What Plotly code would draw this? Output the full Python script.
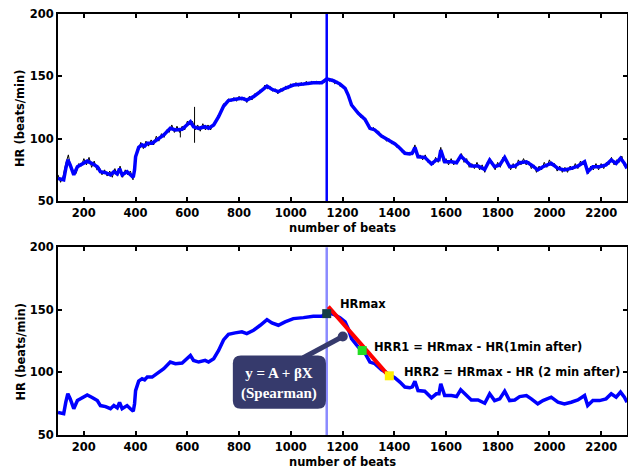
import plotly.graph_objects as go

# ---------------- data ----------------
# smoothed heart-rate (blue)
beats = [100, 112, 122, 130, 138, 147, 161, 175, 195, 213, 232, 252, 264, 284, 303, 316, 329, 338, 348, 367,
         380, 391, 396, 400, 412, 425, 435, 445, 464, 489, 509, 534, 554, 580, 599, 612, 624, 644, 669, 682,
         702, 721, 740, 759, 785, 811, 830, 856, 882, 908, 927, 952, 978, 1010, 1049, 1087, 1120, 1139, 1165, 1190,
         1210, 1222, 1235, 1261, 1287, 1306, 1325, 1351, 1377, 1403, 1422, 1441, 1460, 1470, 1480, 1492, 1518, 1544, 1563, 1573,
         1580, 1595, 1621, 1641, 1657, 1679, 1698, 1724, 1750, 1769, 1788, 1808, 1827, 1846, 1866, 1885, 1911, 1930, 1955, 1975,
         2007, 2033, 2058, 2084, 2110, 2136, 2148, 2168, 2194, 2219, 2239, 2258, 2275, 2290, 2300]
hr = [68, 67.5, 67, 76, 83, 79, 71, 77.5, 80, 82, 80, 77.5, 73.5, 72.7, 71, 73.5, 71.7, 76, 71, 73.5,
      71, 69, 75, 85.5, 93, 95, 94, 96.3, 96.3, 100.3, 103, 108.3, 107, 107.5, 111, 113.6, 109.6, 108.3, 109.6, 108.3,
      111, 117.6, 126, 130.5, 131.6, 132.4, 131, 133.7, 137.7, 142.2, 139.6, 137.7, 140.4, 143, 143.8, 144.9, 144.9, 148, 146.5, 143.8,
      140.4, 135, 127, 120.3, 115.5, 108.3, 107, 102.1, 99, 95.7, 92.3, 88.3, 87.7, 88.5, 93, 85.5, 85, 79.7, 82.9, 83,
      90.9, 81.5, 81.5, 80.7, 86.1, 81.5, 78, 78, 75.4, 82.9, 77.5, 78.9, 85, 77.5, 78, 80.7, 81.5, 78.9, 74.9, 77.5,
      80.2, 76.2, 74.9, 76.2, 78, 81.5, 73.5, 77.5, 77.5, 78.9, 82.9, 80.2, 84.3, 80.2, 76.2]

# raw (noisy) heart-rate, black, one value every 10 beats from 100 to 2300
raw_start, raw_step = 100, 10
raw_hr = [71, 65, 70, 80, 87, 76, 73, 72, 80, 78, 84, 79, 85, 77, 82, 75, 77, 71, 75, 70,
          74, 69, 76, 70, 78, 69, 75, 71, 74, 67, 88, 90, 97, 92, 98, 94, 99, 95, 102, 98,
          104, 101, 107, 105, 111, 105, 110, 105, 110, 107, 114, 111, 114, 107, 111, 106, 112, 107, 111, 107,
          112, 113, 119, 121, 128, 127, 132, 130, 133, 130, 134, 131, 133, 129, 134, 131, 136, 135, 139, 138,
          143, 140, 142, 138, 140, 136, 140, 138, 142, 140, 144, 142, 145, 142, 145, 143, 146, 143, 146, 144,
          146, 144, 146, 145, 149, 146, 148, 144, 146, 142, 143, 139, 137, 129, 127, 122, 122, 117, 118, 113,
          112, 107, 109, 105, 106, 101, 102, 98, 100, 96, 97, 93, 94, 89, 90, 87, 89, 87, 95, 85,
          87, 83, 87, 81, 82, 79, 85, 81, 93, 81, 84, 79, 84, 79, 82, 82, 88, 81, 84, 77,
          80, 76, 81, 75, 79, 73, 81, 84, 81, 75, 81, 77, 85, 82, 81, 75, 80, 76, 83, 79,
          84, 79, 82, 76, 79, 73, 78, 75, 81, 77, 83, 78, 80, 74, 78, 73, 77, 73, 78, 75,
          80, 76, 82, 79, 81, 72, 78, 75, 80, 75, 80, 76, 81, 79, 85, 79, 83, 81, 86, 78, 78]
raw_beats = [raw_start + raw_step * i for i in range(len(raw_hr))]

# artefacts in the raw signal
artifact_beats = [573, 573, None, 628, 628]
artifact_hr = [101, 107.5, None, 125.5, 96.7]

# annotated points
hrmax_beat = 1139
marker_beats = [1139, 1276, 1381]
marker_hr = [147, 117.5, 97.3]
marker_colors = ["#173e48", "#22dd22", "#ffee00"]
slope_beats = [1145, 1383]
slope_hr = [152.6, 96.3]

x_ticks = [200, 400, 600, 800, 1000, 1200, 1400, 1600, 1800, 2000, 2200]
y_ticks = [50, 100, 150, 200]

# ---------------- figure ----------------
BOX = "#363a6c"
FONT = "DejaVu Sans"

fig = go.Figure()

fig.add_trace(go.Scatter(x=raw_beats, y=raw_hr, mode="lines", line=dict(color="black", width=1),
                         xaxis="x", yaxis="y", showlegend=False, hoverinfo="skip"))
fig.add_trace(go.Scatter(x=artifact_beats, y=artifact_hr, mode="lines", line=dict(color="black", width=1),
                         xaxis="x", yaxis="y", showlegend=False, hoverinfo="skip"))
fig.add_trace(go.Scatter(x=beats, y=hr, mode="lines", line=dict(color="#0000ff", width=3.5),
                         xaxis="x", yaxis="y", showlegend=False))

fig.add_trace(go.Scatter(x=beats, y=hr, mode="lines", line=dict(color="#0000ff", width=3.5),
                         xaxis="x2", yaxis="y2", showlegend=False))
fig.add_trace(go.Scatter(x=slope_beats, y=slope_hr, mode="lines", line=dict(color="#ff0000", width=4),
                         xaxis="x2", yaxis="y2", showlegend=False))
fig.add_trace(go.Scatter(x=marker_beats, y=marker_hr, mode="markers",
                         marker=dict(symbol="square", size=9, color=marker_colors, line=dict(width=0)),
                         xaxis="x2", yaxis="y2", showlegend=False))

# callout (pointer + rounded box)
circle_b, circle_h = 1201, 128.7
fig.add_trace(go.Scatter(x=[1048, circle_b], y=[111.7, circle_h], mode="lines",
                         line=dict(color=BOX, width=5), xaxis="x2", yaxis="y2", showlegend=False))
fig.add_trace(go.Scatter(x=[circle_b], y=[circle_h], mode="markers",
                         marker=dict(symbol="circle", size=10, color=BOX),
                         xaxis="x2", yaxis="y2", showlegend=False))

x0, x1, y0, y1 = 776, 1136, 71, 113.5
rx, ry = 31, 6.4
box_path = (f"M {x0+rx},{y0} L {x1-rx},{y0} Q {x1},{y0} {x1},{y0+ry} L {x1},{y1-ry} "
            f"Q {x1},{y1} {x1-rx},{y1} L {x0+rx},{y1} Q {x0},{y1} {x0},{y1-ry} "
            f"L {x0},{y0+ry} Q {x0},{y0} {x0+rx},{y0} Z")

shapes = [
    dict(type="line", xref="x", yref="y domain", x0=hrmax_beat, x1=hrmax_beat, y0=0, y1=1,
         line=dict(color="#0000ff", width=2.5), layer="above"),
    dict(type="line", xref="x2", yref="y2 domain", x0=hrmax_beat, x1=hrmax_beat, y0=0, y1=1,
         line=dict(color="#8a8aff", width=2.5), layer="below"),
    dict(type="path", xref="x2", yref="y2", path=box_path, fillcolor=BOX, line=dict(width=0), layer="above"),
]

tfont = dict(family=FONT, size=11.5, color="black", weight="bold")
annotations = [
    dict(x=956, y=91.5, xref="x2", yref="y2", text="y = A + βX<br>(Spearman)", showarrow=False,
         font=dict(family="Liberation Serif", size=15, color="white", weight="bold"), align="center"),
    dict(x=1184, y=154.8, xref="x2", yref="y2", text="HRmax", showarrow=False, xanchor="left", font=tfont),
    dict(x=1313, y=120.7, xref="x2", yref="y2", text="HRR1 = HRmax - HR(1min after)", showarrow=False,
         xanchor="left", font=tfont),
    dict(x=1429, y=100.7, xref="x2", yref="y2", text="HRR2 = HRmax - HR (2 min after)", showarrow=False,
         xanchor="left", font=tfont),
    dict(x=0.5, y=(435 - 228) / 421, xref="paper", yref="paper", text="number of beats", showarrow=False,
         xanchor="center", yanchor="middle", font=tfont),
    dict(x=0.5, y=(435 - 462) / 421, xref="paper", yref="paper", text="number of beats", showarrow=False,
         xanchor="center", yanchor="middle", font=tfont),
    dict(x=(20 - 58) / 569, y=(435 - 119) / 421, xref="paper", yref="paper", text="HR (beats/min)",
         showarrow=False, textangle=-90, xanchor="center", yanchor="middle", font=tfont),
    dict(x=(20 - 58) / 569, y=(435 - 352.5) / 421, xref="paper", yref="paper", text="HR (beats/min)",
         showarrow=False, textangle=-90, xanchor="center", yanchor="middle", font=tfont),
]

axis_common = dict(showline=True, linecolor="black", linewidth=2, mirror="ticks", ticks="inside",
                   ticklen=4, tickwidth=2, tickcolor="black", showgrid=False, zeroline=False,
                   tickfont=tfont, automargin=False)

fig.update_layout(
    width=628, height=470,
    margin=dict(l=58, r=1, t=14, b=35),
    paper_bgcolor="white", plot_bgcolor="white",
    xaxis=dict(domain=[0, 1], range=[100, 2300], tickvals=x_ticks, anchor="y", **axis_common),
    yaxis=dict(domain=[(435 - 201) / 421, 1], range=[50, 200], tickvals=y_ticks, anchor="x", **axis_common),
    xaxis2=dict(domain=[0, 1], range=[100, 2300], tickvals=x_ticks, anchor="y2", **axis_common),
    yaxis2=dict(domain=[0, (435 - 247.3) / 421], range=[50, 200], tickvals=y_ticks, anchor="x2", **axis_common),
    shapes=shapes,
    annotations=annotations,
)

fig.write_html("out.html", config={"displayModeBar": False},
               post_script="document.body.style.margin='0';document.body.style.overflow='hidden';")
